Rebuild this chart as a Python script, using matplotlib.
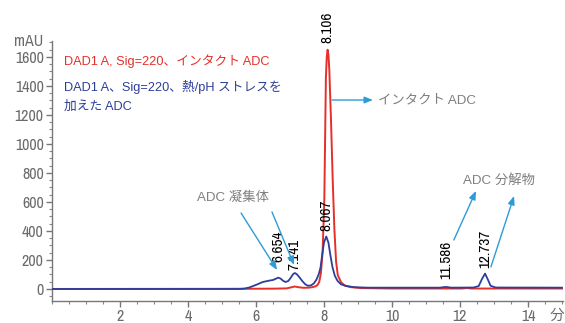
import matplotlib
matplotlib.use("Agg")
import matplotlib.pyplot as plt
from matplotlib import font_manager
from matplotlib.font_manager import FontProperties
from matplotlib.ticker import MultipleLocator

# --- chromatogram data (time in min, absorbance in mAU) ---
intact_time = [0.0, 5.0, 6.5, 6.9, 7.05, 7.141, 7.25, 7.4, 7.55, 7.65, 7.75,
               7.81, 7.86, 7.91, 7.96, 8.01, 8.056, 8.081, 8.106, 8.131,
               8.156, 8.206, 8.256, 8.306, 8.356, 8.406, 8.506, 8.606, 8.8,
               9.1, 10.0, 12.05, 12.15, 12.2, 12.25, 12.35, 15.0]
intact_mau = [0, 1, 2, 4, 12, 17, 12, 8, 9, 12, 18,
              28, 48, 110, 260, 620, 1456, 1598, 1650, 1614,
              1513, 1166, 756, 411, 188, 95, 45, 25, 12,
              6, 3, 3, 5, 7, 5, 3, 3]

stressed_time = [0.0, 5.5, 5.65, 5.8, 6.0, 6.2, 6.4, 6.5, 6.58, 6.654, 6.72,
                 6.8, 6.87, 6.95, 7.03, 7.09, 7.141, 7.2, 7.28, 7.36, 7.45,
                 7.53, 7.62, 7.7, 7.78, 7.85, 7.9, 7.95, 8.0, 8.067, 8.13,
                 8.19, 8.25, 8.32, 8.4, 8.5, 8.65, 8.9, 9.3, 11.4, 11.586,
                 11.75, 12.4, 12.55, 12.65, 12.737, 12.82, 12.9, 13.05, 15.0]
stressed_mau = [0, 0, 2, 10, 28, 48, 58, 62, 70, 78, 72,
                56, 48, 55, 80, 102, 110, 102, 80, 55, 32,
                22, 25, 38, 65, 105, 150, 240, 320, 362, 320,
                230, 150, 90, 55, 32, 20, 12, 9, 9, 14,
                9, 10, 20, 70, 106, 65, 22, 10, 9]

# retention times printed above the peaks, with their apex heights
peak_rt = [6.654, 7.141, 8.067, 8.106, 11.586, 12.737]
peak_top = [78, 110, 362, 1650, 14, 106]
peak_gap = [11, 2, 4, 5, 6, 4]          # label offset above apex (pt)

x_ticks = [2, 4, 6, 8, 10, 12, 14]
y_ticks = [0, 200, 400, 600, 800, 1000, 1200, 1400, 1600]

RED = "#e5302a"
BLUE = "#2d3f98"
ARROW = "#2f9bd6"
GREY = "#7f7f7f"
TICKGREY = "#6b6b6b"

FAM = ["Liberation Sans", "Noto Sans CJK JP", "DejaVu Sans"]
plt.rcParams["font.family"] = FAM


def pick_condensed():
    """Return a FontProperties for a narrow sans face if one is installed."""
    best = None
    for f in font_manager.fontManager.ttflist:
        nm = f.name.lower()
        st = str(f.stretch).lower()
        narrowish = ("narrow" in nm or "condensed" in nm or
                     st in ("condensed", "semi-condensed", "extra-condensed"))
        if not narrowish or "cjk" in nm or "mono" in nm or "serif" in nm and "sans" not in nm:
            continue
        if f.style != "normal" or f.weight not in (400, "normal", "regular"):
            continue
        score = 0
        if "narrow" in nm:
            score += 3
        if "semi" in st or "semi" in nm:
            score -= 1
        if "extra" in st or "extra" in nm:
            score -= 2
        if best is None or score > best[0]:
            best = (score, f.fname)
    if best is None:
        return None
    return FontProperties(fname=best[1])


NUMFONT = pick_condensed()
if NUMFONT is None:
    NUMFONT = FontProperties(family="Liberation Sans")
    num_size = 9.5
else:
    num_size = 11

fig = plt.figure(figsize=(5.65, 3.23), dpi=100)
ax = fig.add_axes([52 / 565, 22 / 323, 511 / 565, 260 / 323])

ax.plot(intact_time, intact_mau, color=RED, lw=1.4, zorder=3)
ax.plot(stressed_time, stressed_mau, color=BLUE, lw=1.3, zorder=4)

ax.set_xlim(0, 15.03)
ax.set_ylim(-83, 1710)
for s in ("top", "right"):
    ax.spines[s].set_visible(False)
for s in ("left", "bottom"):
    ax.spines[s].set_color("#777777")
    ax.spines[s].set_linewidth(1.0)

ax.set_xticks(x_ticks)
ax.set_yticks(y_ticks)
ax.xaxis.set_minor_locator(MultipleLocator(0.5))
ax.yaxis.set_minor_locator(MultipleLocator(50))
ax.tick_params(which="major", length=4, width=1, color="#777777",
               labelcolor=TICKGREY, pad=2)
ax.tick_params(which="minor", length=2, width=0.8, color="#888888")
for lab in ax.get_xticklabels() + ax.get_yticklabels():
    lab.set_fontproperties(NUMFONT)
    lab.set_fontsize(num_size + 0.5)

# time unit written at the end of the time axis, in line with the tick labels
fig.text(557 / 565, 1 - 316 / 323, "分", ha="center", va="center",
         fontsize=10.5, color=TICKGREY, family=["Noto Sans CJK JP"])
mau = fig.text(43 / 565, 1 - 42 / 323, "mAU", ha="right", va="center",
               color=TICKGREY)
mau.set_fontproperties(NUMFONT)
mau.set_fontsize(num_size + 0.5)

# series labels
fig.text(64 / 565, 1 - 61 / 323, "DAD1 A, Sig=220、インタクト ADC",
         ha="left", va="center", fontsize=9.2, color=RED)
fig.text(64 / 565, 1 - 87 / 323, "DAD1 A、Sig=220、熱/pH ストレスを",
         ha="left", va="center", fontsize=9.2, color=BLUE)
fig.text(64 / 565, 1 - 107 / 323, "加えた ADC",
         ha="left", va="center", fontsize=9.2, color=BLUE)

# retention-time labels
for rt, top, gap in zip(peak_rt, peak_top, peak_gap):
    t = ax.annotate(f"{rt:.3f}", xy=(rt, top), xytext=(0, gap),
                    textcoords="offset points", rotation=90,
                    ha="center", va="bottom", color="black")
    t.set_fontproperties(NUMFONT)
    t.set_fontsize(num_size)

arrow_kw = dict(arrowstyle="-|>,head_length=0.5,head_width=0.2",
                color=ARROW, lw=1.0, shrinkA=0, shrinkB=0)

# intact ADC callout
ax.annotate("", xy=(9.44, 1303), xytext=(8.235, 1303), arrowprops=arrow_kw)
ax.text(9.59, 1303, "インタクト ADC", ha="left", va="center",
        fontsize=9.6, color=GREY)

# aggregate callout
ax.text(5.32, 628, "ADC 凝集体", ha="center", va="center",
        fontsize=9.6, color=GREY)
ax.annotate("", xy=(6.62, 131), xytext=(5.56, 524), arrowprops=arrow_kw)
ax.annotate("", xy=(7.12, 166), xytext=(6.47, 531), arrowprops=arrow_kw)

# fragment callout
ax.text(13.15, 745, "ADC 分解物", ha="center", va="center",
        fontsize=9.6, color=GREY)
ax.annotate("", xy=(12.47, 676), xytext=(11.82, 338), arrowprops=arrow_kw)
ax.annotate("", xy=(13.59, 641), xytext=(12.91, 152), arrowprops=arrow_kw)

fig.savefig("out.png", dpi=100)
